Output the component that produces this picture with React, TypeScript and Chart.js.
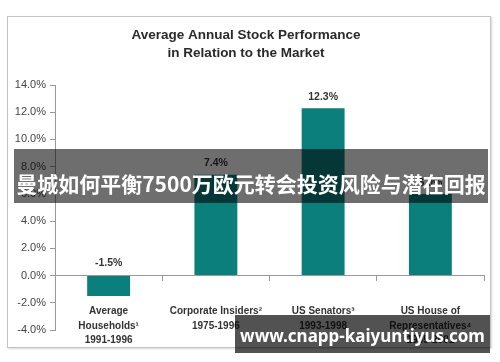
import React, { useEffect, useRef } from "react";
import { Chart, registerables } from "chart.js";

Chart.register(...registerables);

const titleLines = ["Average Annual Stock Performance", "in Relation to the Market"];
const categories = [
  ["Average", "Households¹", "1991-1996"],
  ["Corporate Insiders²", "1975-1996"],
  ["US Senators³", "1993-1998"],
  ["US House of", "Representatives⁴", "1985-2001"],
];
const values = [-1.5, 7.4, 12.3, 6.0];
const yMin = -4;
const yMax = 14;
const yStep = 2;
const bannerText = "曼城如何平衡7500万欧元转会投资风险与潜在回报";
const watermarkText = "www.cnapp-kaiyuntiyus.com";

const BAR_COLOR = "#0b7f7c";
const FONT = "'Liberation Sans', Arial, sans-serif";

const valueLabels = {
  id: "valueLabels",
  afterDatasetsDraw(chart: any) {
    const ctx = chart.ctx;
    const meta = chart.getDatasetMeta(0);
    const zero = chart.scales.y.getPixelForValue(0);
    ctx.save();
    ctx.font = `bold 10.5px ${FONT}`;
    ctx.fillStyle = "#333";
    ctx.textAlign = "center";
    ctx.textBaseline = "bottom";
    meta.data.forEach((el: any, i: number) => {
      const v = values[i];
      const y = v >= 0 ? el.y - 6 : zero - 7;
      ctx.fillText(v.toFixed(1) + "%", el.x, y);
    });
    ctx.restore();
  },
};

export default function App() {
  const ref = useRef<HTMLCanvasElement | null>(null);
  useEffect(() => {
    if (!ref.current) return;
    const chart = new Chart(ref.current, {
      type: "bar",
      data: {
        labels: categories as any,
        datasets: [
          {
            data: values,
            backgroundColor: BAR_COLOR,
            borderWidth: 0,
            barPercentage: 0.4,
            categoryPercentage: 1,
          },
        ],
      },
      options: {
        animation: false,
        responsive: false,
        devicePixelRatio: 1,
        layout: { padding: { left: 8, right: 16, top: 0, bottom: 32 } },
        plugins: {
          legend: { display: false },
          tooltip: { enabled: false },
          title: {
            display: true,
            text: titleLines,
            color: "#2a2a2a",
            font: { family: FONT, size: 13.5, weight: "bold", lineHeight: 18 / 13.5 },
            padding: { top: 26, bottom: 23 },
          },
        },
        scales: {
          x: {
            position: { y: 0 } as any,
            grid: {
              offset: true,
              drawOnChartArea: false,
              drawTicks: true,
              tickLength: 5,
              color: "#999",
            },
            border: { display: true, color: "#999", width: 1 },
            ticks: {
              color: "#333",
              font: { family: FONT, size: 10, weight: "bold", lineHeight: 1.42 },
              padding: 24,
              maxRotation: 0,
              minRotation: 0,
              autoSkip: false,
            },
            afterFit: (s: any) => {
              s.height = 0;
            },
          },
          y: {
            min: yMin,
            max: yMax,
            grid: {
              drawOnChartArea: false,
              drawTicks: true,
              tickLength: 5,
              color: "#999",
            },
            border: { display: true, color: "#999", width: 1 },
            ticks: {
              stepSize: yStep,
              color: "#444",
              padding: 4,
              font: { family: FONT, size: 11 },
              callback: (v: any) => Number(v).toFixed(1) + "%",
            },
            afterFit: (s: any) => {
              s.width = 47;
            },
          },
        },
      },
      plugins: [valueLabels],
    });
    return () => chart.destroy();
  }, []);

  return (
    <div
      style={{
        position: "fixed",
        left: 0,
        top: 0,
        width: 500,
        height: 362,
        background: "#fff",
        overflow: "hidden",
      }}
    >
      <div
        style={{
          position: "absolute",
          left: 7,
          top: 16,
          width: 482,
          height: 330,
          border: "1px solid #c4c4c4",
          boxShadow: "1px 1px 2px #d8d8d8",
        }}
      />
      <canvas
        ref={ref}
        width={500}
        height={362}
        style={{ position: "absolute", left: 0, top: 0, width: 500, height: 362 }}
      />
      <div
        style={{
          position: "absolute",
          left: 14,
          top: 149,
          width: 474,
          height: 54,
          boxSizing: "border-box",
          paddingTop: 14,
          background: "rgba(0,0,0,0.57)",
          color: "#fff",
          display: "flex",
          alignItems: "center",
          justifyContent: "center",
          fontFamily: "'Noto Sans CJK SC', sans-serif",
          fontWeight: 700,
          fontSize: 21,
          whiteSpace: "nowrap",
        }}
      >
        {bannerText}
      </div>
      <div
        style={{
          position: "absolute",
          left: 235,
          top: 315,
          width: 255,
          height: 38,
          background: "rgba(0,0,0,0.68)",
          color: "#fff",
          display: "flex",
          alignItems: "center",
          justifyContent: "center",
          fontFamily: "'Noto Sans', sans-serif",
          fontWeight: 700,
          fontSize: 17,
          whiteSpace: "nowrap",
          paddingTop: 3,
          boxSizing: "border-box",
        }}
      >
        {watermarkText}
      </div>
    </div>
  );
}
